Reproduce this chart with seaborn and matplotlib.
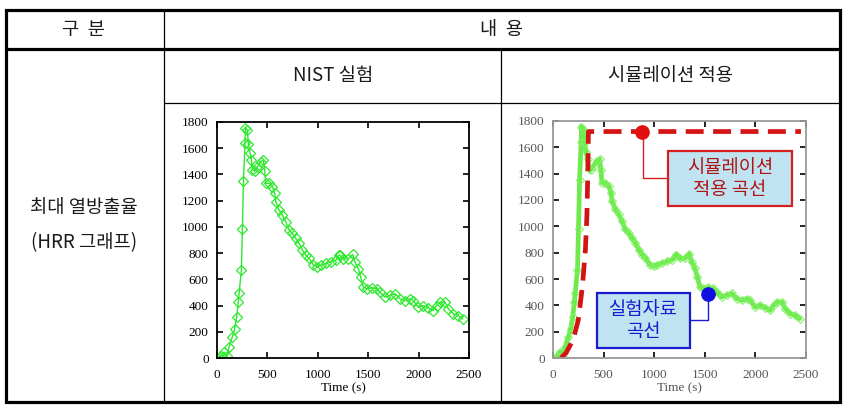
import matplotlib
matplotlib.use("Agg")
import matplotlib.pyplot as plt
from matplotlib.lines import Line2D
from matplotlib.patches import Rectangle
import seaborn as sns
import pandas as pd

sns.set_theme(style="white")
plt.rcParams['font.family'] = ['Noto Sans CJK KR', 'DejaVu Sans']

# ---------------- data ----------------
time_s = [0, 36, 70, 100, 119, 152, 175, 195, 212, 219, 242, 252, 262, 278, 281,
          301, 311, 328, 341, 351, 374, 401, 434, 460, 474, 483, 517, 550, 573,
          583, 616, 649, 682, 715, 748, 781, 814, 848, 881, 914, 957, 997, 1030,
          1079, 1129, 1179, 1212, 1220, 1253, 1303, 1345, 1369, 1402, 1425, 1452,
          1485, 1535, 1584, 1617, 1667, 1716, 1766, 1816, 1865, 1915, 1948, 1997,
          2047, 2097, 2146, 2179, 2212, 2262, 2295, 2345, 2394, 2437]
hrr_kw = [0, 15, 46, 13, 84, 160, 224, 313, 428, 492, 670, 981, 1350, 1638, 1758,
          1740, 1631, 1567, 1511, 1434, 1427, 1460, 1498, 1511, 1427, 1332, 1332,
          1307, 1256, 1192, 1129, 1090, 1039, 976, 950, 912, 874, 823, 785, 759,
          708, 696, 708, 721, 734, 746, 785, 783, 757, 757, 790, 732, 681, 617,
          540, 528, 536, 528, 502, 464, 477, 490, 451, 438, 451, 438, 387, 400,
          383, 362, 400, 425, 425, 375, 336, 324, 298]

sim_time_s = [80, 130, 200, 250, 290, 320, 335, 345, 350, 2450]
sim_hrr_kw = [0, 40, 140, 290, 540, 820, 1080, 1450, 1720, 1720]

x_ticks = [0, 500, 1000, 1500, 2000, 2500]
y_ticks = [0, 200, 400, 600, 800, 1000, 1200, 1400, 1600, 1800]
x_label = "Time (s)"

header_left = "구  분"
header_right = "내  용"
sub_left = "NIST 실험"
sub_right = "시뮬레이션 적용"
row_label = ["최대 열방출율", "(HRR 그래프)"]
sim_label = "시뮬레이션\n적용 곡선"
exp_label = "실험자료\n곡선"

# annotation anchors (data units)
sim_marker = (880, 1720)
exp_marker = (1534, 489)

nist = pd.DataFrame({"time": time_s, "hrr": hrr_kw})
sim = pd.DataFrame({"time": sim_time_s, "hrr": sim_hrr_kw})

# ---------------- figure ----------------
W, H = 848, 415
fig = plt.figure(figsize=(W / 100, H / 100), dpi=100)
fig.patch.set_facecolor("white")


def fx(x):
    return x / W


def fy(y):
    return 1 - y / H


def hline(y, x0, x1, lw):
    fig.add_artist(Line2D([fx(x0), fx(x1)], [fy(y), fy(y)], transform=fig.transFigure,
                          color="black", lw=lw, solid_capstyle="butt"))


def vline(x, y0, y1, lw):
    fig.add_artist(Line2D([fx(x), fx(x)], [fy(y0), fy(y1)], transform=fig.transFigure,
                          color="black", lw=lw, solid_capstyle="butt"))


# table grid
fig.add_artist(Rectangle((fx(5.5), fy(401.5)), fx(839.5) - fx(5.5), fy(10.5) - fy(401.5),
                         transform=fig.transFigure, fill=False, lw=2.3,
                         edgecolor="black", joinstyle="miter"))
hline(49.5, 5, 840, 2.3)
hline(103, 164, 840, 0.9)
vline(164, 11, 402, 0.9)
vline(501, 49.5, 402, 0.9)

txt = dict(ha="center", va="center", fontsize=13.5, color="#1a1a1a")
fig.text(fx(84), fy(29), header_left, **txt)
fig.text(fx(502), fy(29), header_right, **txt)
fig.text(fx(333), fy(76), sub_left, **txt)
fig.text(fx(671), fy(76), sub_right, **txt)
fig.text(fx(84), fy(207), row_label[0], **txt)
fig.text(fx(84), fy(243), row_label[1], **txt)

serif = ["Liberation Serif", "DejaVu Serif"]


def style_axes(ax, spine_color, label_color):
    ax.set_xlim(0, 2500)
    ax.set_ylim(0, 1800)
    ax.set_xticks(x_ticks)
    ax.set_yticks(y_ticks)
    ax.set_xticklabels([str(v) for v in x_ticks], family=serif, fontsize=9.5, color=label_color)
    ax.set_yticklabels([str(v) for v in y_ticks], family=serif, fontsize=9.5, color=label_color)
    ax.tick_params(direction="in", length=4, width=1.2, top=True, right=True,
                   bottom=True, left=True, color="black")
    ax.tick_params(axis="x", pad=8)
    ax.tick_params(axis="y", pad=6)
    ax.set_xlabel(x_label, family=serif, fontsize=9.5, color=label_color, labelpad=1)
    ax.set_ylabel("")
    for s in ax.spines.values():
        s.set_visible(True)
        s.set_color(spine_color)
        s.set_linewidth(1.3)
    ax.set_facecolor("white")


# left chart: NIST experiment
ax1 = fig.add_axes([fx(217), fy(358), (469 - 217) / W, (358 - 122) / H])
sns.lineplot(data=nist, x="time", y="hrr", ax=ax1, estimator=None, sort=False,
             color="#2ee82e", lw=1.0, marker="D", markersize=4.6,
             markerfacecolor="none", markeredgecolor="#2ee82e", markeredgewidth=0.9)
style_axes(ax1, "black", "black")

# right chart: simulation applied
ax2 = fig.add_axes([fx(553), fy(358), (806 - 553) / W, (358 - 121) / H])
sns.lineplot(data=nist, x="time", y="hrr", ax=ax2, estimator=None, sort=False,
             color="#5fe83a", lw=3.4, alpha=0.9, marker="D", markersize=3.8,
             markerfacecolor="none", markeredgecolor="#7df060", markeredgewidth=0.8)
sns.lineplot(data=sim, x="time", y="hrr", ax=ax2, estimator=None, sort=False,
             color="#d41414", lw=3.4)
ax2.lines[-1].set_dashes([3.8, 2.0])
style_axes(ax2, "#9a9a9a", "#555555")

# annotation connectors
ax2.plot([sim_marker[0] + 10, sim_marker[0] + 10, 1138], [sim_marker[1], 1369, 1369],
         color="#d42020", lw=1.0, zorder=3)
ax2.plot([exp_marker[0], exp_marker[0], 1352], [exp_marker[1], 292, 292],
         color="#1a1ad0", lw=1.0, zorder=3)

sns.scatterplot(x=[sim_marker[0]], y=[sim_marker[1]], ax=ax2, s=95, color="#e01010",
                edgecolor="#e01010", zorder=5)
sns.scatterplot(x=[exp_marker[0]], y=[exp_marker[1]], ax=ax2, s=95, color="#1010e0",
                edgecolor="#1010e0", zorder=5)

ax2.add_patch(Rectangle((1138, 1154), 2361 - 1138, 1572 - 1154, facecolor="#bfe3f0",
                        edgecolor="#d42020", lw=1.6, zorder=4))
ax2.text((1138 + 2361) / 2, 1363, sim_label, ha="center", va="center", fontsize=13.5,
         color="#b01515", linespacing=1.1, zorder=6)

ax2.add_patch(Rectangle((439, 76), 1352 - 439, 494 - 76, facecolor="#bfe3f0",
                        edgecolor="#1a1ad0", lw=1.6, zorder=4))
ax2.text((439 + 1352) / 2, 285, exp_label, ha="center", va="center", fontsize=13.5,
         color="#1a1ad0", linespacing=1.1, zorder=6)

fig.savefig("out.png", dpi=100, facecolor="white")
